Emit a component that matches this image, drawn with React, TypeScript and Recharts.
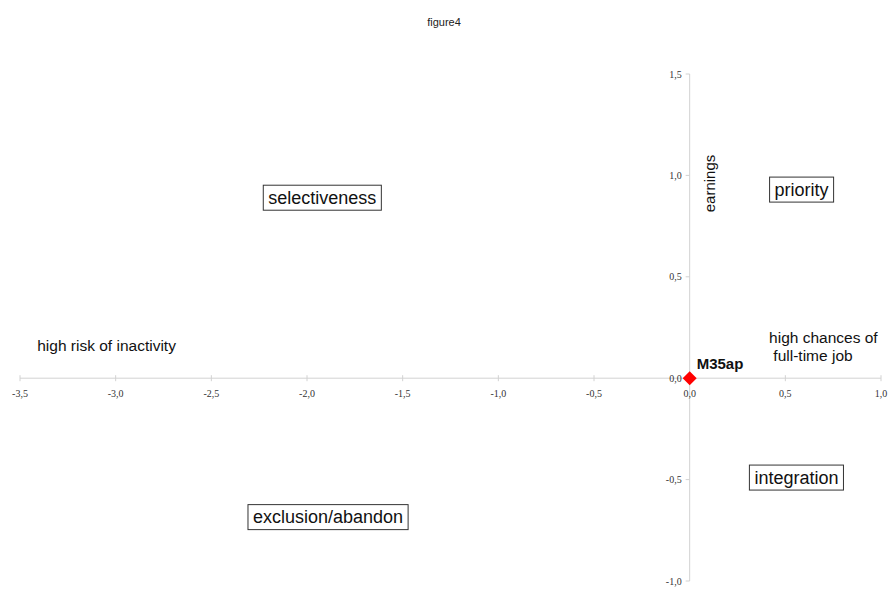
import { useLayoutEffect, useRef, useState } from 'react'
import { ReferenceLine, Scatter, ScatterChart, XAxis, YAxis } from 'recharts'

// axis ranges and ticks (the axes cross at the origin)
const xDomain = [-3.5, 1.0]
const yDomain = [-1.0, 1.5]
const xTickValues = [-3.5, -3.0, -2.5, -2.0, -1.5, -1.0, -0.5, 0.0, 0.5, 1.0]
const yTickValues = [-1.0, -0.5, 0.0, 0.5, 1.0, 1.5]

// plotted observations
const points = [{ name: 'M35ap', x: 0.0, y: 0.0 }]

// quadrant captions drawn in a frame
const boxedLabels = [
  { text: 'selectiveness', x: -1.92, y: 0.89 },
  { text: 'priority', x: 0.585, y: 0.93 },
  { text: 'integration', x: 0.558, y: -0.49 },
  { text: 'exclusion/abandon', x: -1.89, y: -0.685 },
]

// free text along the axes
const axisNotes = [
  { lines: ['high risk of inactivity'], x: -3.41, y: 0.163, rotate: false },
  { lines: ['high chances of', ' full-time job'], x: 0.415, y: 0.2, rotate: false },
  { lines: ['earnings'], x: 0.106, y: 0.96, rotate: true },
]

const xTicks = xTickValues.map((v) => ({ x: v, y: 0 }))
const yTicks = yTickValues.map((v) => ({ x: 0, y: v }))

const fmt = (v: number) => v.toFixed(1).replace('.', ',')

const sans = 'Liberation Sans, Arial, Helvetica, sans-serif'
const serif = 'Liberation Serif, Times New Roman, serif'
const axisColor = '#d2d2d2'

const BoxedLabel = ({ cx, cy, text }: { cx: number; cy: number; text: string }) => {
  const ref = useRef<SVGTextElement>(null)
  const [w, setW] = useState(text.length * 9.5)
  useLayoutEffect(() => {
    if (ref.current) setW(ref.current.getBBox().width)
  }, [text])
  const padX = 5
  const h = 25
  return (
    <g>
      <rect
        x={cx - w / 2 - padX}
        y={cy - h / 2}
        width={w + padX * 2}
        height={h}
        fill="#fff"
        stroke="#333"
        strokeWidth={1}
      />
      <text
        ref={ref}
        x={cx}
        y={cy}
        textAnchor="middle"
        dominantBaseline="central"
        fontFamily={sans}
        fontSize={18}
        fill="#111"
      >
        {text}
      </text>
    </g>
  )
}

const XTick = (props: any) => {
  const { cx, cy, payload } = props
  return (
    <g>
      <line x1={cx} x2={cx} y1={cy - 3} y2={cy + 3} stroke={axisColor} />
      <text x={cx} y={cy + 19} textAnchor="middle" fontFamily={serif} fontSize={10} fill="#333">
        {fmt(payload.x)}
      </text>
    </g>
  )
}

const YTick = (props: any) => {
  const { cx, cy, payload } = props
  return (
    <g>
      <line x1={cx - 4} x2={cx} y1={cy} y2={cy} stroke={axisColor} />
      <text
        x={cx - 8}
        y={cy}
        textAnchor="end"
        dominantBaseline="central"
        fontFamily={serif}
        fontSize={10}
        fill="#333"
      >
        {fmt(payload.y)}
      </text>
    </g>
  )
}

const Note = (props: any) => {
  const { cx, cy, payload } = props
  if (payload.rotate) {
    return (
      <text
        x={cx}
        y={cy}
        transform={`rotate(-90 ${cx} ${cy})`}
        textAnchor="middle"
        dominantBaseline="central"
        fontFamily={sans}
        fontSize={15}
        fill="#111"
      >
        {payload.lines[0]}
      </text>
    )
  }
  return (
    <text x={cx} y={cy} fontFamily={sans} fontSize={15.5} fill="#111" style={{ whiteSpace: 'pre' }}>
      {payload.lines.map((line: string, i: number) => (
        <tspan key={i} x={cx} dy={i === 0 ? '0.35em' : 18}>
          {line}
        </tspan>
      ))}
    </text>
  )
}

const Diamond = (props: any) => {
  const { cx, cy, payload } = props
  const r = 7
  return (
    <g>
      <polygon
        points={`${cx},${cy - r} ${cx + r},${cy} ${cx},${cy + r} ${cx - r},${cy}`}
        fill="#ff0000"
      />
      <text x={cx + 7} y={cy - 9} fontFamily={sans} fontSize={15} fontWeight="bold" fill="#111">
        {payload.name}
      </text>
    </g>
  )
}

const App = () => (
  <div style={{ position: 'absolute', left: 0, top: 0, width: 888, height: 589, background: '#fff' }}>
    <div
      style={{
        position: 'absolute',
        top: 16,
        width: 888,
        textAlign: 'center',
        fontFamily: sans,
        fontSize: 11,
        color: '#222',
      }}
    >
      figure4
    </div>
    <ScatterChart width={888} height={589} margin={{ top: 74, right: 7, bottom: 8, left: 20 }}>
      <XAxis type="number" dataKey="x" domain={xDomain} hide />
      <YAxis type="number" dataKey="y" domain={yDomain} hide />
      <ReferenceLine y={0} stroke={axisColor} />
      <ReferenceLine x={0} stroke={axisColor} />
      <Scatter data={xTicks} shape={XTick} isAnimationActive={false} />
      <Scatter data={yTicks} shape={YTick} isAnimationActive={false} />
      <Scatter
        data={boxedLabels}
        shape={(p: any) => <BoxedLabel cx={p.cx} cy={p.cy} text={p.payload.text} />}
        isAnimationActive={false}
      />
      <Scatter data={axisNotes} shape={Note} isAnimationActive={false} />
      <Scatter data={points} shape={Diamond} isAnimationActive={false} />
    </ScatterChart>
  </div>
)

export default App
